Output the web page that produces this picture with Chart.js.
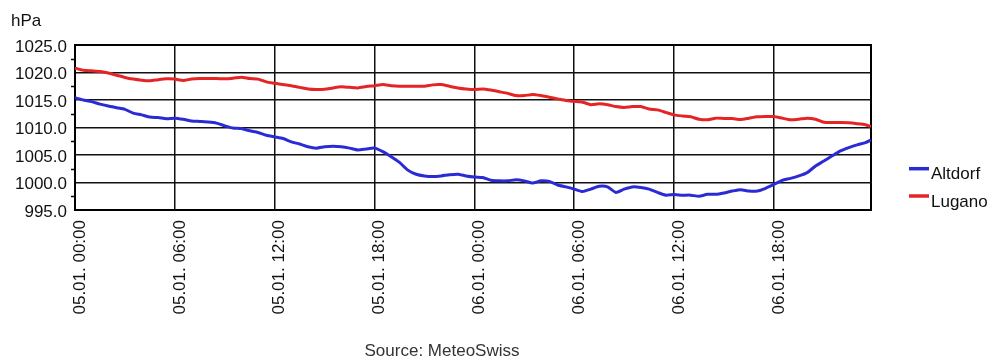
<!DOCTYPE html>
<html>
<head>
<meta charset="utf-8">
<title>Luftdruck Altdorf / Lugano</title>
<script src="https://cdn.jsdelivr.net/npm/chart.js@4/dist/chart.umd.min.js"></script>
<style>
  html, body { margin: 0; padding: 0; background: #ffffff; }
  #wrap { width: 995px; height: 363px; }
</style>
</head>
<body>
<div id="wrap"><canvas id="chart" width="995" height="363"></canvas></div>
<script>
// Station pressure, half-hourly samples from 05.01. 00:00, last sample at 06.01. 23:50 (hPa)
const sampleStepHours = 0.5;
const lastSampleHour = 47 + 50 / 60;

const altdorf = [
  1015.4, 1015.0, 1014.7, 1014.25, 1013.9, 1013.6, 1013.3, 1012.6, 1012.3, 1011.9,
  1011.8, 1011.6, 1011.7, 1011.5, 1011.2, 1011.1, 1011.0, 1010.8, 1010.3, 1009.9,
  1009.8, 1009.4, 1009.1, 1008.6, 1008.3, 1008.0, 1007.4, 1007.0, 1006.5, 1006.25,
  1006.5, 1006.6, 1006.5, 1006.25, 1005.9, 1006.1, 1006.25, 1005.6, 1004.7, 1003.65,
  1002.25, 1001.5, 1001.2, 1001.1, 1001.2, 1001.4, 1001.5, 1001.2, 1001.0, 1000.9,
  1000.4, 1000.3, 1000.3, 1000.5, 1000.3, 999.9, 1000.3, 1000.2, 999.55, 999.2,
  998.8, 998.35, 998.8, 999.3, 999.2, 998.2, 998.8, 999.2, 999.1, 998.8,
  998.2, 997.7, 997.8, 997.7, 997.7, 997.5, 997.85, 997.85, 998.1, 998.45,
  998.7, 998.45, 998.45, 998.95, 999.65, 1000.4, 1000.75, 1001.2, 1001.8, 1003.0,
  1003.9, 1004.85, 1005.75, 1006.35, 1006.85, 1007.25, 1007.75
];

const lugano = [
  1020.8, 1020.4, 1020.3, 1020.2, 1019.9, 1019.5, 1019.1, 1018.8, 1018.6, 1018.5,
  1018.7, 1018.85, 1018.8, 1018.55, 1018.8, 1018.9, 1018.9, 1018.9, 1018.85, 1018.95,
  1019.15, 1018.9, 1018.8, 1018.3, 1018.05, 1017.8, 1017.6, 1017.3, 1017.0, 1016.9,
  1016.95, 1017.2, 1017.4, 1017.3, 1017.2, 1017.45, 1017.6, 1017.8, 1017.6, 1017.5,
  1017.5, 1017.5, 1017.5, 1017.75, 1017.8, 1017.5, 1017.2, 1017.0, 1016.9, 1017.0,
  1016.8, 1016.5, 1016.2, 1015.8, 1015.8, 1016.0, 1015.8, 1015.5, 1015.2, 1014.9,
  1014.75, 1014.6, 1014.15, 1014.3, 1014.15, 1013.8, 1013.65, 1013.8, 1013.8, 1013.35,
  1013.2, 1012.75, 1012.3, 1012.1, 1011.95, 1011.5, 1011.4, 1011.7, 1011.65, 1011.65,
  1011.45, 1011.7, 1011.95, 1012.0, 1012.0, 1011.7, 1011.4, 1011.5, 1011.7, 1011.5,
  1010.95, 1010.9, 1010.9, 1010.85, 1010.7, 1010.5, 1010.15
];

const seriesNames = ['Altdorf', 'Lugano'];
const seriesColors = ['#2b2bd6', '#e52525'];

const tickHours = [0, 6, 12, 18, 24, 30, 36, 42];
const tickLabels = [
  '05.01. 00:00', '05.01. 06:00', '05.01. 12:00', '05.01. 18:00',
  '06.01. 00:00', '06.01. 06:00', '06.01. 12:00', '06.01. 18:00'
];
const yMin = 995, yMax = 1025, yStep = 5;
const unitLabel = 'hPa';
const sourceLabel = 'Source: MeteoSwiss';

const FONT = "'Liberation Sans', Arial, sans-serif";

// sample time in hours for each reading
function sampleHour(i, n) {
  return i === n - 1 ? lastSampleHour : i * sampleStepHours;
}
function toPoints(values) {
  return values.map((v, i) => ({ x: sampleHour(i, values.length), y: v }));
}

// plot frame, minor ticks on the pressure axis, unit, legend and source note
const decorations = {
  id: 'decorations',
  beforeDatasetsDraw(chart) {
    const { ctx, chartArea: a } = chart;
    ctx.save();
    ctx.strokeStyle = '#000';
    ctx.lineWidth = 2;
    ctx.strokeRect(a.left, a.top, a.right - a.left, a.bottom - a.top);
    const y = chart.scales.y;
    ctx.lineWidth = 1.5;
    for (let v = yMin + yStep / 2; v < yMax; v += yStep) {
      const py = Math.round(y.getPixelForValue(v)) + 0.5;
      ctx.beginPath();
      ctx.moveTo(a.left - 4, py);
      ctx.lineTo(a.left, py);
      ctx.stroke();
    }
    ctx.restore();
  },
  afterDraw(chart) {
    const { ctx, chartArea: a } = chart;
    ctx.save();
    ctx.fillStyle = '#111';
    ctx.font = '17px ' + FONT;
    ctx.textAlign = 'left';
    ctx.textBaseline = 'alphabetic';
    ctx.fillText(unitLabel, 11, 26);

    // legend
    chart.data.datasets.forEach((ds, i) => {
      const ly = 168.7 + i * 27.3;
      ctx.strokeStyle = ds.borderColor;
      ctx.lineWidth = 3.5;
      ctx.beginPath();
      ctx.moveTo(a.right + 38, ly);
      ctx.lineTo(a.right + 58, ly);
      ctx.stroke();
      ctx.fillStyle = '#111';
      ctx.fillText(ds.label, a.right + 60, 179.3 + i * 27.4);
    });

    // source note
    ctx.fillStyle = '#333';
    ctx.textAlign = 'center';
    ctx.fillText(sourceLabel, 442, 356);
    ctx.restore();
  }
};

new Chart(document.getElementById('chart'), {
  type: 'line',
  data: {
    datasets: seriesNames.map((name, i) => ({
      label: name,
      data: toPoints(i === 0 ? altdorf : lugano),
      borderColor: seriesColors[i],
      backgroundColor: seriesColors[i],
      borderWidth: 3,
      pointRadius: 0,
      tension: 0.2,
      fill: false
    }))
  },
  options: {
    responsive: false,
    animation: false,
    devicePixelRatio: 1,
    layout: { padding: { top: 45, right: 124, bottom: 43, left: 0 } },
    plugins: {
      legend: { display: false },
      tooltip: { enabled: false }
    },
    scales: {
      x: {
        type: 'linear',
        min: 0,
        max: lastSampleHour,
        afterBuildTicks(scale) {
          scale.ticks = tickHours.map(v => ({ value: v }));
        },
        afterFit(scale) { scale.height = 110; },
        ticks: {
          autoSkip: false,
          minRotation: 90,
          maxRotation: 90,
          padding: 10,
          labelOffset: 5,
          color: '#111',
          font: { family: FONT, size: 17 },
          callback: (value) => {
            const idx = tickHours.indexOf(value);
            return idx >= 0 ? tickLabels[idx] : '';
          }
        },
        grid: { color: '#111', lineWidth: 1.5, drawTicks: false },
        border: { color: '#000', width: 2 }
      },
      y: {
        min: yMin,
        max: yMax,
        afterFit(scale) { scale.width = 75; },
        ticks: {
          stepSize: yStep,
          padding: 8,
          labelOffset: 2,
          color: '#111',
          font: { family: FONT, size: 17 },
          callback: (value) => Number(value).toFixed(1)
        },
        grid: { color: '#111', lineWidth: 1.5, drawTicks: false },
        border: { color: '#000', width: 2 }
      }
    }
  },
  plugins: [decorations]
});
</script>
</body>
</html>
